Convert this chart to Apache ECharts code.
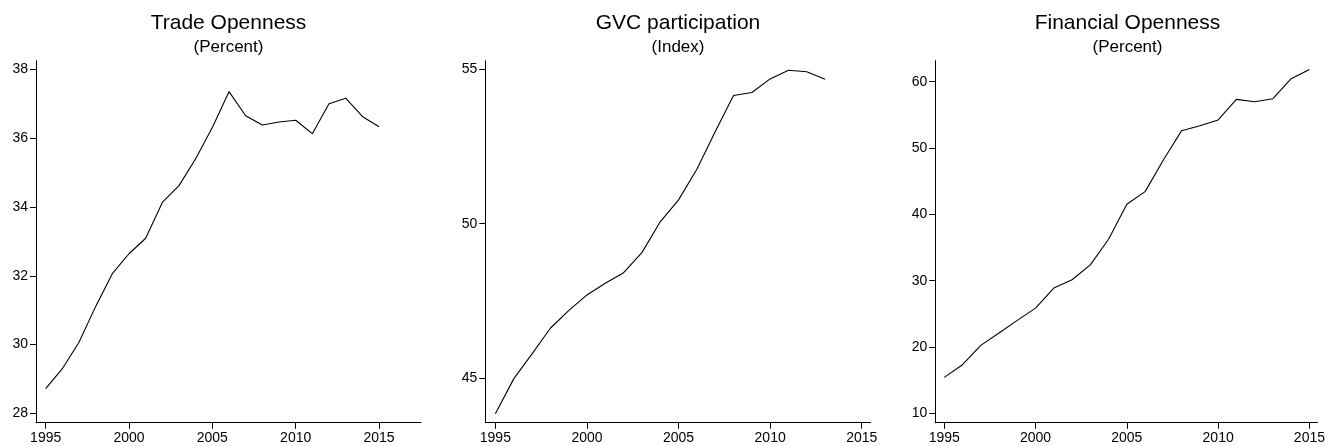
<!DOCTYPE html>
<html><head><meta charset="utf-8">
<script src="https://cdn.jsdelivr.net/npm/echarts@6/dist/echarts.min.js"></script>
<style>html,body{margin:0;padding:0;background:#fff}#c{width:1328px;height:446px}</style>
</head><body><div id="c"></div>
<script>
// ---- data ----
const years = [1995,1996,1997,1998,1999,2000,2001,2002,2003,2004,2005,2006,2007,2008,2009,2010,2011,2012,2013,2014,2015];
const gvcYears = [1995,1996,1997,1998,1999,2000,2001,2002,2003,2004,2005,2006,2007,2008,2009,2010,2011,2012,2013];
const tradeOpenness = [28.72,29.30,30.07,31.11,32.06,32.64,33.09,34.13,34.62,35.40,36.31,37.35,36.65,36.38,36.47,36.52,36.13,37.00,37.16,36.63,36.33];
const gvcParticipation = [43.84,44.97,45.78,46.61,47.18,47.69,48.07,48.41,49.06,50.06,50.77,51.76,52.98,54.15,54.25,54.69,54.97,54.92,54.68];
const financialOpenness = [15.42,17.33,20.24,22.10,24.01,25.86,28.88,30.13,32.39,36.25,41.53,43.43,48.20,52.62,53.37,54.23,57.34,56.99,57.44,60.45,61.86];
const yearTicks = [1995,2000,2005,2010,2015];
const tradeTicks = [28,30,32,34,36,38];
const gvcTicks = [45,50,55];
const finTicks = [10,20,30,40,50,60];
const titles = ['Trade Openness','GVC participation','Financial Openness'];
const subtitles = ['(Percent)','(Index)','(Percent)'];

// ---- layout ----
const FONT = '"Liberation Sans", Arial, sans-serif';
const panels = [
  {left:36,    width:385,   xMin:1994.42, xMax:2017.52, yMin:27.73, yMax:38.25, yTicks:tradeTicks, x:years,    y:tradeOpenness},
  {left:485.3, width:385.4, xMin:1994.45, xMax:2015.49, yMin:43.55, yMax:55.28, yTicks:gvcTicks,   x:gvcYears, y:gvcParticipation},
  {left:935.3, width:384.4, xMin:1994.51, xMax:2015.44, yMin:8.58,  yMax:63.17, yTicks:finTicks,   x:years,    y:financialOpenness}
];
const TOP = 60.7, HEIGHT = 362;

const grid = [], xAxis = [], yAxis = [], series = [], graphic = [];
panels.forEach((p, i) => {
  grid.push({left:p.left, top:TOP, width:p.width, height:HEIGHT});
  const common = {
    gridIndex:i, type:'value', splitLine:{show:false},
    axisLine:{show:true, lineStyle:{color:'#000', width:1}},
    axisTick:{show:true, length:6, lineStyle:{color:'#000', width:1}},
    axisLabel:{color:'#000', fontSize:14, fontFamily:FONT, margin:8}
  };
  xAxis.push(Object.assign({}, common, {
    min:p.xMin, max:p.xMax,
    axisTick:Object.assign({}, common.axisTick, {customValues:yearTicks}),
    axisLabel:Object.assign({}, common.axisLabel, {customValues:yearTicks, formatter:v => String(Math.round(v))})
  }));
  yAxis.push(Object.assign({}, common, {
    min:p.yMin, max:p.yMax,
    axisTick:Object.assign({}, common.axisTick, {customValues:p.yTicks}),
    axisLabel:Object.assign({}, common.axisLabel, {customValues:p.yTicks, formatter:v => String(Math.round(v))})
  }));
  series.push({
    type:'line', xAxisIndex:i, yAxisIndex:i, showSymbol:false, silent:true, animation:false,
    lineStyle:{color:'#000', width:1.1},
    data:p.x.map((yr, k) => [yr, p.y[k]])
  });
  const cx = p.left + p.width / 2;
  graphic.push({type:'text', x:cx, y:23, style:{text:titles[i], fontSize:21, fontFamily:FONT, fill:'#000', align:'center', verticalAlign:'middle'}});
  graphic.push({type:'text', x:cx, y:47, style:{text:subtitles[i], fontSize:17, fontFamily:FONT, fill:'#000', align:'center', verticalAlign:'middle'}});
});

const chart = echarts.init(document.getElementById('c'), null, {renderer:'canvas'});
chart.setOption({animation:false, backgroundColor:'#fff', grid, xAxis, yAxis, series, graphic});
</script>
</body></html>
